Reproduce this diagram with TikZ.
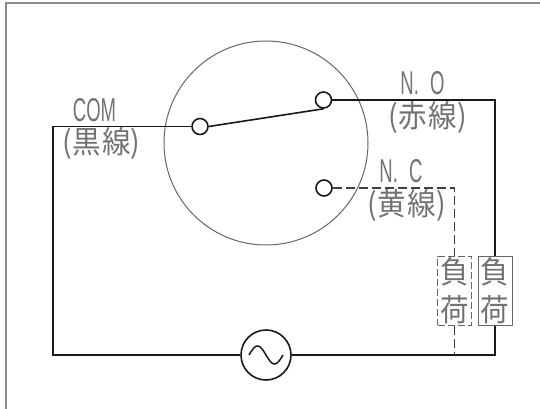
\documentclass[tikz,border=0pt]{standalone}
\usepackage{fontspec}
\newfontfamily\jpfont{Noto Sans CJK JP}
\newfontfamily\latinfont{Liberation Sans}
\newcommand{\lbl}[1]{\scalebox{0.56}[1]{\latinfont\fontsize{33}{33}\selectfont #1}}
\newcommand{\jlbl}[1]{\scalebox{0.92}[1]{\jpfont\fontsize{31}{31}\selectfont #1}}
\tikzset{
    wire/.style={line width=1.6pt,black!90},
    dashwire/.style={line width=1.1pt,black!75,dash pattern=on 9pt off 4pt},
    contact/.style={circle,draw,line width=1.6pt,black!90,fill=white,minimum size=16pt,inner sep=0pt},
    loadbox/.style={draw,line width=1pt,black!60,fill=white,text=black!55,minimum width=34pt,minimum height=69pt,inner sep=0pt,align=center,font=\fontsize{26}{37.5}\selectfont},
    lab/.style={text=black!55,inner sep=0pt}
}
\begin{document}
\begin{tikzpicture}[x=1pt,y=-1pt]
        \useasboundingbox (0,0) rectangle (540,409);
        \coordinate (fbot) at (6,409);
        \coordinate (ftop) at (6,3);
        \coordinate (fright) at (540,3);
        \draw[line width=1.3pt,black!45] (fbot) -- (ftop) -- (fright);

        \node (switchcase) at (266,143) [circle,draw,line width=1pt,black!60,minimum size=204pt,inner sep=0pt]{};

        \node (com) at (200,126.5) [contact]{};
        \node (no) at (323.5,100) [contact]{};
        \node (nc) at (324,188) [contact]{};
        \node (source) at (266,355) [circle,draw,line width=1.6pt,black!90,minimum size=50pt,inner sep=0pt]{};
        \node (loadno) at (495,290.5) [loadbox]{\jlbl{負}\\\jlbl{荷}};
        \node (loadnc) at (454.5,290.5) [loadbox,dash pattern=on 7pt off 3pt]{\jlbl{負}\\\jlbl{荷}};

        \coordinate (cornercom) at (53,126.5);
        \coordinate (cornerbl) at (53,355);
        \coordinate (cornerno) at (495,100);
        \coordinate (cornerbr) at (495,355);
        \coordinate (cornernc) at (454.5,188);
        \coordinate (joinnc) at (454.5,355);

        \draw[wire] (com) -- (cornercom) -- (cornerbl) -- (source);
        \draw[wire] (source) -- (cornerbr) -- (loadno);
        \draw[wire] (loadno) -- (cornerno) -- (no);
        \draw[wire] (com.east) -- (no.south);
        \draw[dashwire] (nc) -- (cornernc) -- (loadnc);
        \draw[dashwire] (loadnc) -- (joinnc);

        \draw[line width=1.5pt,black!90,domain=249:283,samples=40,variable=\x] plot({\x},{355-9*sin((\x-249)*10.59)});

        \node (comlab) at (94.5,110) [lab]{\lbl{COM}};
        \node (comwire) at (101.5,144) [lab]{\jlbl{(黒\hspace{2pt}線)}};
        \node (nolab) at (422.5,83.5) [lab]{\lbl{N.\hspace{20pt}O}};
        \node (nowire) at (428,118) [lab]{\jlbl{(赤\hspace{2pt}線)}};
        \node (nclab) at (401,171) [lab]{\lbl{N.\hspace{20pt}C}};
        \node (ncwire) at (407,206) [lab]{\jlbl{(黄\hspace{2pt}線)}};
\end{tikzpicture}
\end{document}
